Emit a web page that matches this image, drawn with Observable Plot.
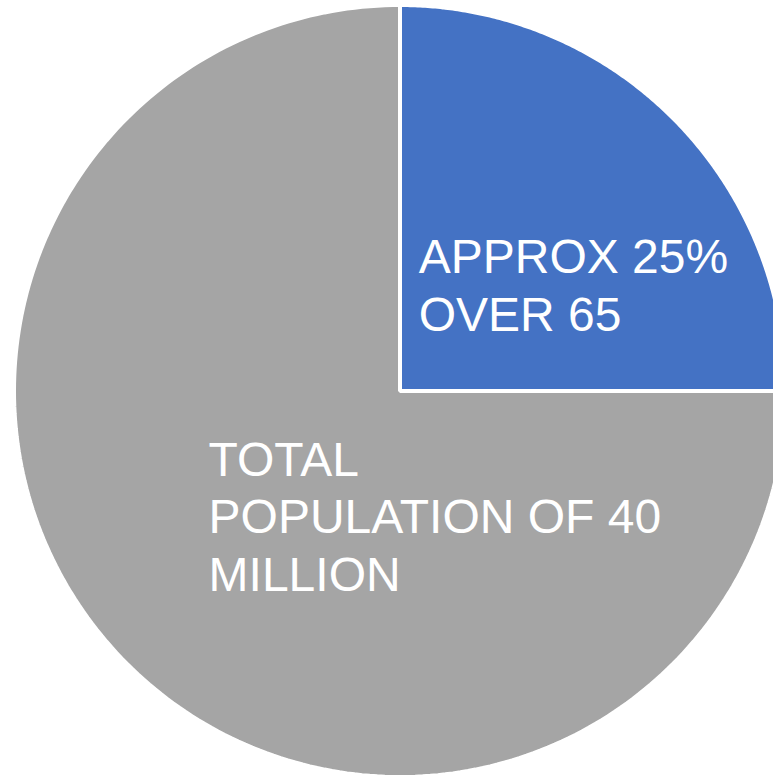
<!DOCTYPE html>
<html>
<head>
<meta charset="utf-8">
<script src="https://cdn.jsdelivr.net/npm/d3@7"></script>
<script src="https://cdn.jsdelivr.net/npm/@observablehq/plot@0.6"></script>
<style>
  html, body { margin: 0; padding: 0; background: #ffffff; }
  #chart svg { display: block; }
</style>
</head>
<body>
<div id="chart"></div>
<script>
// ---- data ----
const categories = ["APPROX 25%\nOVER 65", "TOTAL\nPOPULATION OF 40\nMILLION"];
const values = [25, 75];
const colors = ["#4472C4", "#A5A5A5"];

// ---- layout (pixels) ----
const W = 773, H = 775;
const CX = 400, CY = 391, R = 386;

// pie angles (0 = 12 o'clock, clockwise)
const arcs = d3.pie().sort(null).value(d => d)(values);

// sector outlines in data units (radius 1)
const pts = [];
arcs.forEach((a, i) => {
  const n = 240;
  for (let k = 0; k <= n; k++) {
    const t = a.startAngle + (a.endAngle - a.startAngle) * k / n;
    pts.push({cat: categories[i], x1: 0, y1: 0, x2: Math.sin(t), y2: Math.cos(t)});
  }
});

// label placement: centroid at 0.45 radius plus per-slice nudge
const nudges = [[-0.271, -0.039], [-0.179, -0.001]];
const labelData = arcs.map((a, i) => {
  const m = (a.startAngle + a.endAngle) / 2;
  return {
    text: categories[i],
    x: 0.45 * Math.sin(m) + nudges[i][0],
    y: 0.45 * Math.cos(m) + nudges[i][1]
  };
});

const chart = Plot.plot({
  width: W,
  height: H,
  margin: 0,
  x: {domain: [-CX / R, (W - CX) / R], range: [0, W], axis: null},
  y: {domain: [-(H - CY) / R, CY / R], range: [H, 0], axis: null},
  color: {domain: categories, range: colors},
  marks: [
    Plot.area(pts, {x1: "x1", y1: "y1", x2: "x2", y2: "y2", z: "cat", fill: "cat",
      stroke: "#ffffff", strokeWidth: 4, strokeLinejoin: "miter"}),
    Plot.text(labelData, {x: "x", y: "y", text: "text", textAnchor: "start", lineAnchor: "middle",
      lineHeight: 1.2, fontSize: 48, fill: "#ffffff",
      fontFamily: "'Liberation Sans', Arial, Helvetica, sans-serif"})
  ]
});
document.getElementById("chart").appendChild(chart);
</script>
</body>
</html>
